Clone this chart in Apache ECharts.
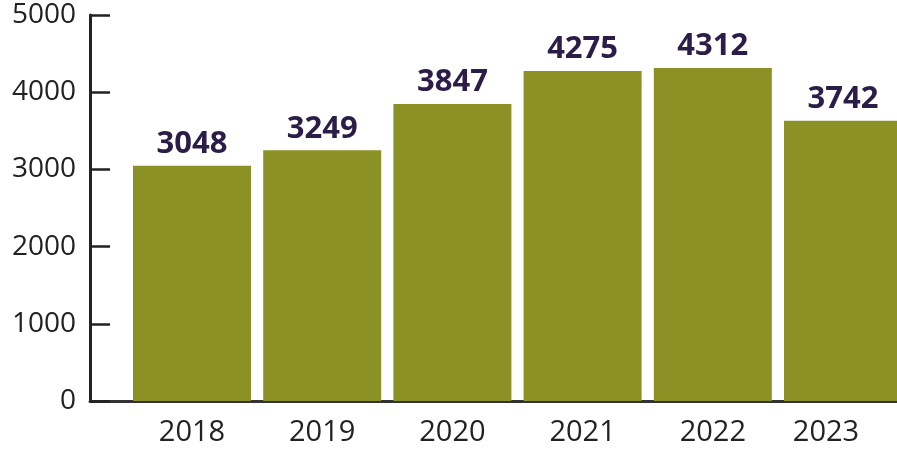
<!DOCTYPE html>
<html>
<head>
<meta charset="utf-8">
<script src="https://cdn.jsdelivr.net/npm/echarts@6/dist/echarts.min.js"></script>
<style>
  html, body { margin: 0; padding: 0; background: #fff; }
  #chart { width: 897px; height: 450px; }
</style>
</head>
<body>
<div id="chart"></div>
<script>
const years = ['2018', '2019', '2020', '2021', '2022', '2023'];
// printed values above the bars
const counts = [3048, 3249, 3847, 4275, 4312, 3742];
// bar heights as drawn in the source (the 2023 bar is drawn shorter than its label)
const barHeights = [3048, 3249, 3847, 4275, 4312, 3630];
const yMin = 0, yMax = 5000, yStep = 1000;

function initChart(){
	let myChart = echarts.init(document.getElementById('chart'));

	let option = {
		animation: false,
		// grid 0 holds the y axis and the base line, grid 1 holds the bars
		// (bars sit on category points, the last one runs off the canvas)
		grid: [
			{ left: 90, right: 0, top: 15, bottom: 49 },
			{ left: 192, right: 54, top: 15, bottom: 49 }
		],
		xAxis: [
			{
				gridIndex: 0,
				type: 'value',
				min: 0,
				max: 1,
				axisLine: { show: true, lineStyle: { color: '#333', width: 3 } },
				axisTick: { show: false },
				axisLabel: { show: false },
				splitLine: { show: false }
			},
			{
				gridIndex: 1,
				type: 'category',
				boundaryGap: false,
				data: years,
				axisLine: { show: false },
				axisTick: { show: false },
				axisLabel: {
					interval: 0,
					margin: 17,
					fontFamily: 'Open Sans',
					fontSize: 29,
					color: '#222',
					formatter: function (v, i) {
						return i === years.length - 1 ? '{last|' + v + '}' : v;
					},
					rich: {
						last: { fontFamily: 'Open Sans', fontSize: 29, color: '#222', padding: [0, 34, 0, 0] }
					}
				}
			}
		],
		yAxis: [
			{
				gridIndex: 0,
				type: 'value',
				min: yMin,
				max: yMax,
				interval: yStep,
				axisLine: { show: true, lineStyle: { color: '#222', width: 3 } },
				axisTick: { show: true, inside: true, length: 20, lineStyle: { color: '#222', width: 2.5 } },
				axisLabel: {
					margin: 14,
					fontFamily: 'Open Sans',
					fontSize: 28,
					color: '#222',
					formatter: function (v) { return String(v); }
				},
				splitLine: { show: false }
			},
			{
				gridIndex: 1,
				type: 'value',
				min: yMin,
				max: yMax,
				show: false
			}
		],
		series: [
			{
				type: 'bar',
				xAxisIndex: 1,
				yAxisIndex: 1,
				barWidth: 118,
				clip: false,
				z: 5,
				itemStyle: { color: '#8c9126' },
				label: {
					show: true,
					position: 'top',
					distance: 6,
					fontFamily: 'Open Sans',
					fontWeight: 'bold',
					fontSize: 31,
					color: '#2b1d48',
					formatter: function (p) { return String(counts[p.dataIndex]); }
				},
				data: barHeights
			}
		]
	};

	myChart.setOption(option);
	return myChart;
}

initChart();
</script>
</body>
</html>
